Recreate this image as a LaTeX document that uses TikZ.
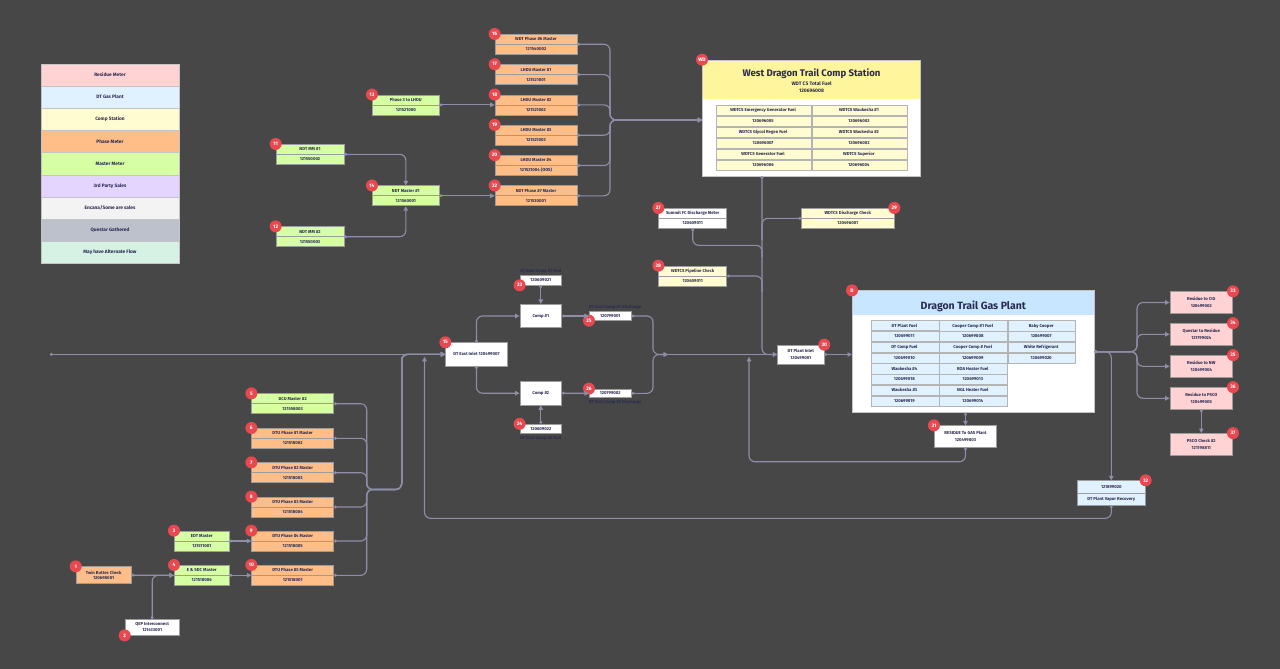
\documentclass[tikz,border=0pt]{standalone}
\usepackage{fontspec}
\setmainfont{Fira Sans}
\usetikzlibrary{arrows.meta,positioning,matrix}

\definecolor{canvas}{HTML}{474747}
\definecolor{wire}{HTML}{8E8EA8}
\definecolor{ink}{HTML}{2B2B52}
\definecolor{rim}{HTML}{9C9C9C}
\definecolor{seam}{HTML}{C4C4C4}
\definecolor{cellrim}{HTML}{B4B4B4}
\definecolor{badgered}{HTML}{E8484F}
\definecolor{residue}{HTML}{FFD3D3}
\definecolor{plant}{HTML}{E0F2FF}
\definecolor{planthead}{HTML}{C8E6FF}
\definecolor{station}{HTML}{FFFCD2}
\definecolor{stationhead}{HTML}{FFF59D}
\definecolor{phase}{HTML}{FFBE87}
\definecolor{master}{HTML}{D6FFA3}
\definecolor{thirdparty}{HTML}{E3D5FF}
\definecolor{encana}{HTML}{F3F3F3}
\definecolor{questar}{HTML}{BCC1CC}
\definecolor{alternate}{HTML}{D5F2E5}

\begin{document}
\begin{tikzpicture}
  [x=1pt,y=-1pt,
   every node/.style={text=ink,inner sep=0pt,align=center,font=\fontsize{4.3}{5}\selectfont\bfseries},
   legendbox/.style={rectangle,draw=seam,line width=0.4pt,minimum width=138pt,minimum height=22.14pt,font=\fontsize{4.8}{5}\selectfont\bfseries},
   meter/.style={rectangle,draw=rim,line width=0.7pt,minimum height=20pt,font=\fontsize{4.3}{10}\selectfont\bfseries},
   tag/.style={rectangle,draw=rim,line width=0.7pt,font=\fontsize{4.3}{7}\selectfont\bfseries},
   cell/.style={rectangle,draw=cellrim,line width=0.6pt,font=\fontsize{4.3}{5}\selectfont\bfseries},
   badge/.style={circle,fill=badgered,text=white,minimum size=12pt,font=\fontsize{5}{5}\selectfont\bfseries},
   divider/.style={draw=rim,line width=0.7pt},
   flow/.style={draw=wire,line width=1.1pt,rounded corners=6pt,{Circle[length=2.8pt]}-{Triangle[length=4.5pt,width=4.5pt]}},
   tapline/.style={draw=wire,line width=1.1pt,rounded corners=6pt,{Circle[length=2.8pt]}-},
   feed/.style={draw=wire,line width=1.1pt,-{Triangle[length=4.5pt,width=4.5pt]}}]

  \useasboundingbox (0,0) rectangle (1280,669);
  \fill[canvas] (0,0) rectangle (1280,669);

  % legend
  \node[legendbox,fill=residue] (lres) at (110,75.07) {Residue Meter};
  \node[legendbox,fill=plant] (lplant) at (110,97.21) {DT Gas Plant};
  \node[legendbox,fill=station] (lstation) at (110,119.35) {Comp Station};
  \node[legendbox,fill=phase] (lphase) at (110,141.49) {Phase Meter};
  \node[legendbox,fill=master] (lmaster) at (110,163.63) {Master Meter};
  \node[legendbox,fill=thirdparty] (lthird) at (110,185.77) {3rd Party Sales};
  \node[legendbox,fill=encana] (lencana) at (110,207.91) {Encana/Some are sales};
  \node[legendbox,fill=questar] (lquestar) at (110,230.05) {Questar Gathered};
  \node[legendbox,fill=alternate] (lalt) at (110,252.19) {May have Alternate Flow};

  % west dragon trail comp station
  \node[rectangle,draw=seam,line width=0.6pt,fill=white,minimum width=218.4pt,minimum height=116pt,
        path picture={\fill[stationhead] (path picture bounding box.north west) rectangle ([yshift=-39.3pt]path picture bounding box.north east);}]
        (wd) at (811.5,118) {};
  \node[anchor=base,font=\fontsize{9.6}{10}\selectfont\bfseries] (wdtitle) at (811.5,76.7) {West Dragon Trail Comp Station};
  \node[anchor=base,font=\fontsize{5}{5}\selectfont\bfseries] (wdfuel) at (811.5,85.3) {WDT CS Total Fuel};
  \node[anchor=base,font=\fontsize{5}{5}\selectfont\bfseries] (wdmeter) at (811.5,92.7) {120696008};
  \matrix (wdgrid) [matrix of nodes,nodes={cell,fill=station,minimum width=95.3pt,minimum height=10.17pt}] at (811.5,137.8) {
    WDTCS Emergency Generator Fuel & WDTCS Waukesha \#1 \\
    120696005 & 120696002 \\
    WDTCS Glycol Regen Fuel & WDTCS Waukesha \#2 \\
    120696007 & 120696003 \\
    WDTCS Generator Fuel & WDTCS Superior \\
    120696006 & 120696004 \\
  };

  % dragon trail gas plant
  \node[rectangle,draw=seam,line width=0.6pt,fill=white,minimum width=242pt,minimum height=122pt,
        path picture={\fill[planthead] (path picture bounding box.north west) rectangle ([yshift=-24.3pt]path picture bounding box.north east);}]
        (dplant) at (973.3,351.7) {};
  \node[anchor=base,font=\fontsize{10.5}{11}\selectfont\bfseries] (dtitle) at (973.3,309) {Dragon Trail Gas Plant};
  \matrix (dgrid) [matrix of nodes,nodes={cell,fill=plant,minimum width=67.8pt,minimum height=10.12pt}] at (973.3,363.2) {
    DT Plant Fuel & Cooper Comp \#1 Fuel & Baby Cooper \\
    120699011 & 120699008 & 120699007 \\
    DT Comp Fuel & Cooper Comp \# Fuel & White Refrigerant \\
    120699010 & 120699009 & 120699020 \\
    Waukesha \#4 & ROA Heater Fuel & \\
    120699018 & 120699013 & \\
    Waukesha \#3 & NGL Heater Fuel & \\
    120699019 & 120699014 & \\
  };

  % wdt phase meters
  \node[meter,fill=phase,minimum width=82pt] (n16) at (536,44.3) {WDT Phase \#6 Master\\121540002};
  \node[meter,fill=phase,minimum width=82pt] (n17) at (536,74.6) {LHDU Master \#1\\121521001};
  \node[meter,fill=phase,minimum width=82pt] (n18) at (536,104.9) {LHDU Master \#2\\121521002};
  \node[meter,fill=phase,minimum width=82pt] (n19) at (536,135.2) {LHDU Master \#3\\121521003};
  \node[meter,fill=phase,minimum width=82pt] (n20) at (536,165.5) {LHDU Master \#4\\121521004 (OOS)};
  \node[meter,fill=phase,minimum width=82pt] (n22) at (536,195.8) {NDT Phase \#7 Master\\121530001};
  \node[meter,fill=master,minimum width=67pt] (n13) at (405.8,104.9) {Phase 3 to LHDU\\121521000};
  \node[meter,fill=master,minimum width=67pt] (n14) at (405.8,195.8) {NDT Master \#1\\121560001};
  \node[meter,fill=master,minimum width=68pt] (n11) at (310,154.3) {NDT MM \#1\\121550002};
  \node[meter,fill=master,minimum width=68pt] (n12) at (310,236.7) {NDT MM \#2\\121550003};

  % dtu meters
  \node[meter,fill=master,minimum width=82pt] (n5) at (292.7,403.7) {DCU Master \#2\\121558003};
  \node[meter,fill=phase,minimum width=82pt] (n6) at (292.7,438.3) {DTU Phase \#1 Master\\121518002};
  \node[meter,fill=phase,minimum width=82pt] (n7) at (292.7,472.7) {DTU Phase \#2 Master\\121518003};
  \node[meter,fill=phase,minimum width=82pt] (n8) at (292.7,507) {DTU Phase \#3 Master\\121518004};
  \node[meter,fill=phase,minimum width=82pt] (n9) at (292.7,541) {DTU Phase \#4 Master\\121518005};
  \node[meter,fill=phase,minimum width=82pt] (n10) at (292.7,575.3) {DTU Phase \#5 Master\\121518001};
  \node[meter,fill=master,minimum width=55pt] (n3) at (201.8,541) {EDT Master\\121511001};
  \node[meter,fill=master,minimum width=55pt] (n4) at (201.8,575.3) {E \& SDC Master\\121518006};
  \node[tag,fill=phase,minimum width=55.3pt,minimum height=17pt,font=\fontsize{4.3}{5.4}\selectfont\bfseries] (n1) at (103.7,575.2) {Twin Buttes Check\\120698001};
  \node[tag,fill=white,minimum width=54.3pt,minimum height=15.7pt,font=\fontsize{4.3}{5.4}\selectfont\bfseries] (n2) at (152.2,627.2) {QEP Interconnect\\121433001};

  % dt east compression
  \node[tag,fill=white,minimum width=61.6pt,minimum height=23.3pt] (n15) at (476.5,354.3) {DT East Inlet 120499007};
  \node[tag,fill=white,minimum width=41.7pt,minimum height=23.4pt] (comp1) at (540.8,316) {Comp \#1};
  \node[tag,fill=white,minimum width=41.7pt,minimum height=23.4pt] (comp2) at (540.8,393.2) {Comp \#2};
  \node[tag,fill=white,minimum width=41.7pt,minimum height=9.3pt] (n23) at (540.8,280.3) {120609021};
  \node[tag,fill=white,minimum width=41.7pt,minimum height=9.3pt] (n24) at (540.8,428.8) {120609022};
  \node[tag,fill=white,minimum width=42pt,minimum height=8.6pt] (n25) at (610.3,316) {120799001};
  \node[tag,fill=white,minimum width=42pt,minimum height=8.6pt] (n26) at (610.3,393.3) {120799002};
  \node[above=1.5pt of n23] (l23) {DT East Comp \#1 Fuel};
  \node[below=2pt of n24] (l24) {DT East Comp \#2 Fuel};
  \node[above=1.5pt of n25.north west,anchor=south west] (l25) {DT East Comp \#1 Discharge};
  \node[below=2pt of n26.south west,anchor=north west] (l26) {DT East Comp \#2 Discharge};

  % plant inlet side
  \node[meter,fill=white,minimum width=68pt] (n27) at (692.7,218.3) {Summit FC Discharge Meter\\120609011};
  \node[meter,fill=station,minimum width=68pt] (n28) at (692.7,276) {WDTCS Pipeline Check\\120609011};
  \node[meter,fill=station,minimum width=92.3pt] (n29) at (847.8,218.3) {WDTCS Discharge Check\\120496001};
  \node[tag,fill=white,minimum width=46.3pt,minimum height=19pt,font=\fontsize{4.3}{6.3}\selectfont\bfseries] (n30) at (800.8,354.5) {DT Plant Inlet\\120499001};
  \node[tag,fill=white,minimum width=62.4pt,minimum height=21.6pt] (n31) at (965.5,436.5) {RESIDUE To GAS Plant\\120499003};
  \node[meter,fill=plant,minimum width=68pt,minimum height=24.6pt,font=\fontsize{4.3}{12}\selectfont\bfseries] (n32) at (1111.3,493) {121899020\\DT Plant Vapor Recovery};

  % residue outlets
  \node[tag,fill=residue,minimum width=62.7pt,minimum height=21.7pt] (n33) at (1201.3,302.5) {Residue to CIG\\120499002};
  \node[tag,fill=residue,minimum width=62.7pt,minimum height=21.7pt] (n34) at (1201.3,334.3) {Questar to Residue\\121799024};
  \node[tag,fill=residue,minimum width=62.7pt,minimum height=21.7pt] (n35) at (1201.3,366.3) {Residue to NW\\120499004};
  \node[tag,fill=residue,minimum width=62.7pt,minimum height=21.7pt] (n36) at (1201.3,398.3) {Residue to PSCO\\120499005};
  \node[tag,fill=residue,minimum width=62.7pt,minimum height=21.7pt] (n37) at (1201.3,444.3) {PSCO Check \#2\\121198811};

  % split lines of the two part meters
  \draw[divider] (n16.west) -- (n16.east) (n17.west) -- (n17.east) (n18.west) -- (n18.east)
                 (n19.west) -- (n19.east) (n20.west) -- (n20.east) (n22.west) -- (n22.east)
                 (n13.west) -- (n13.east) (n14.west) -- (n14.east) (n11.west) -- (n11.east)
                 (n12.west) -- (n12.east) (n5.west) -- (n5.east) (n6.west) -- (n6.east)
                 (n7.west) -- (n7.east) (n8.west) -- (n8.east) (n9.west) -- (n9.east)
                 (n10.west) -- (n10.east) (n3.west) -- (n3.east) (n4.west) -- (n4.east)
                 (n27.west) -- (n27.east) (n28.west) -- (n28.east) (n29.west) -- (n29.east)
                 (n32.west) -- (n32.east);

  % badges
  \node[badge] (b16) at (n16.north west) {16};
  \node[badge] (b17) at (n17.north west) {17};
  \node[badge] (b18) at (n18.north west) {18};
  \node[badge] (b19) at (n19.north west) {19};
  \node[badge] (b20) at (n20.north west) {20};
  \node[badge] (b22) at (n22.north west) {22};
  \node[badge] (b13) at (n13.north west) {13};
  \node[badge] (b14) at (n14.north west) {14};
  \node[badge] (b11) at (n11.north west) {11};
  \node[badge] (b12) at (n12.north west) {12};
  \node[badge] (b5) at (n5.north west) {5};
  \node[badge] (b6) at (n6.north west) {6};
  \node[badge] (b7) at (n7.north west) {7};
  \node[badge] (b8) at (n8.north west) {8};
  \node[badge] (b9) at (n9.north west) {9};
  \node[badge] (b10) at (n10.north west) {10};
  \node[badge] (b3) at (n3.north west) {3};
  \node[badge] (b4) at (n4.north west) {4};
  \node[badge] (b1) at (n1.north west) {1};
  \node[badge] (b2) at (n2.south west) {2};
  \node[badge] (b15) at (n15.north west) {15};
  \node[badge] (b23) at (n23.south west) {23};
  \node[badge] (b24) at (n24.north west) {24};
  \node[badge] (b25) at (n25.south west) {25};
  \node[badge] (b26) at (n26.north west) {26};
  \node[badge] (b27) at (n27.north west) {27};
  \node[badge] (b28) at (n28.north west) {28};
  \node[badge] (b29) at (n29.north east) {29};
  \node[badge] (b30) at (n30.north east) {30};
  \node[badge] (b31) at (n31.north west) {31};
  \node[badge] (b32) at (n32.north east) {32};
  \node[badge] (b33) at (n33.north east) {33};
  \node[badge] (b34) at (n34.north east) {34};
  \node[badge] (b35) at (n35.north east) {35};
  \node[badge] (b36) at (n36.north east) {36};
  \node[badge] (b37) at (n37.north east) {37};
  \node[badge] (bwd) at (wd.north west) {WD};
  \node[badge] (bd) at (dplant.north west) {D};

  % junctions on the lines
  \coordinate (inflow) at (50,354.3);
  \coordinate (wdjoin) at (610,120);
  \coordinate (wdin) at (702.3,120);
  \coordinate (wdout) at (762,176);
  \coordinate (j27) at (762,245.3);
  \coordinate (j28) at (762,292);
  \coordinate (j29) at (762,240);
  \coordinate (mixbend) at (653,354.5);
  \coordinate (eastmix) at (668,354.5);
  \coordinate (resbend) at (749,461.7);
  \coordinate (resin) at (749,356.8);
  \coordinate (vrbend) at (424.5,518.3);
  \coordinate (vrin) at (424.5,356.8);
  \coordinate (dfork) at (1137,351.7);
  \coordinate (dtufork) at (366.7,489.5);
  \coordinate (dturise) at (401.7,354.3);

  \draw[flow] (n16.east) -| (wdjoin) -- (wdin);
  \draw[flow] (n17.east) -| (wdjoin) -- (wdin);
  \draw[flow] (n18.east) -| (wdjoin) -- (wdin);
  \draw[flow] (n19.east) -| (wdjoin) -- (wdin);
  \draw[flow] (n20.east) -| (wdjoin) -- (wdin);
  \draw[flow] (n22.east) -| (wdjoin) -- (wdin);
  \draw[flow] (n13.east) -- (n18.west);
  \draw[flow] (n14.east) -- (n22.west);
  \draw[flow] (n11.east) -| (n14.north);
  \draw[flow] (n12.east) -| (n14.south);

  \draw[flow] (wdout) |- (n30.west);
  \draw[tapline] (n29.west) -| (j29);
  \draw[tapline] (n27.south) |- (j27) -- ++(0,12);
  \draw[tapline] (n28.east) -| (j28);

  \draw[flow] (inflow) -- (n15.west);
  \draw[flow] (n15.north) |- (comp1.west);
  \draw[flow] (n15.south) |- (comp2.west);
  \draw[flow] (n23.south) -- (comp1.north);
  \draw[flow] (n24.north) -- (comp2.south);
  \draw[flow] (comp1.east) -- (n25.west);
  \draw[flow] (comp2.east) -- (n26.west);
  \draw[flow] (n25.east) -| (mixbend) -- (eastmix);
  \draw[flow] (n26.east) -| (mixbend) -- (eastmix);
  \draw[feed] (eastmix) -- (n30.west);
  \draw[flow] (n30.east) -- (n30.east -| dplant.west);

  \draw[flow] (n31.north |- dplant.south) -- (n31.north);
  \draw[flow] (n31.south) |- (resbend) -- (resin);
  \draw[flow] (dplant.east) -- (dfork) |- (n33.west);
  \draw[flow] (dplant.east) -- (dfork) |- (n34.west);
  \draw[flow] (dplant.east) -- (dfork) |- (n35.west);
  \draw[flow] (dplant.east) -- (dfork) |- (n36.west);
  \draw[flow] (n36.south) -- (n37.north);
  \draw[flow] (dplant.east) -| (n32.north);
  \draw[flow] (n32.south) |- (vrbend) -- (vrin);

  \draw[flow] (n1.east) -- (n4.west);
  \draw[flow] (n2.north) |- (n4.west);
  \draw[flow] (n3.east) -- (n9.west);
  \draw[flow] (n4.east) -- (n10.west);
  \draw[flow] (n5.east) -| (dtufork) -| (dturise) -- (n15.west);
  \draw[flow] (n6.east) -| (dtufork) -| (dturise) -- (n15.west);
  \draw[flow] (n7.east) -| (dtufork) -| (dturise) -- (n15.west);
  \draw[flow] (n8.east) -| (dtufork) -| (dturise) -- (n15.west);
  \draw[flow] (n9.east) -| (dtufork) -| (dturise) -- (n15.west);
  \draw[flow] (n10.east) -| (dtufork) -| (dturise) -- (n15.west);
\end{tikzpicture}
\end{document}
